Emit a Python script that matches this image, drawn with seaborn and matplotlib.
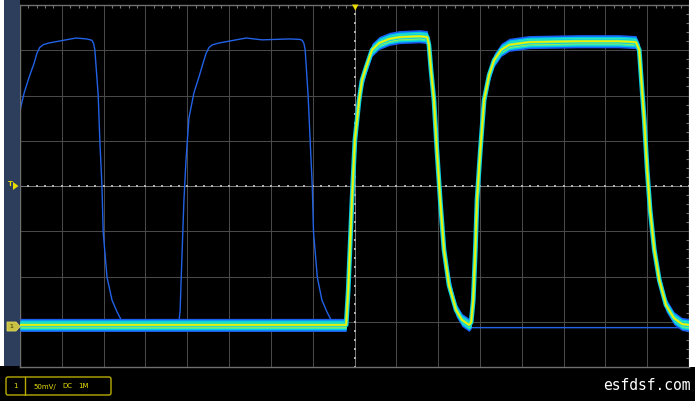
import numpy as np
import matplotlib
matplotlib.use("Agg")
import matplotlib.pyplot as plt
from matplotlib.patches import Rectangle, FancyBboxPatch, Polygon
from matplotlib.ticker import MultipleLocator
import seaborn as sns
import pandas as pd

# trace de référence (bleu, acquisition unique) -- divisions
ref_t = [-8.07, -8.02, -7.98, -7.90, -7.78, -7.66, -7.60, -7.53, -7.45, -7.31, -6.90, -6.66, -6.40, -6.28,
         -6.24, -6.21, -6.13, -6.09, -6.04, -6.01, -5.92, -5.80, -5.68, -5.58, -5.53,
         -4.20, -4.17, -4.13, -4.08, -4.03, -3.96, -3.84, -3.72, -3.62, -3.55, -3.48, -3.40,
         -3.24, -2.83, -2.59, -2.21, -1.56, -1.31, -1.25,
         -1.21, -1.18, -1.11, -1.06, -1.01, -0.98, -0.89, -0.78, -0.66, -0.56, -0.51, -0.20,
         -0.15, -0.06, 0.11, 0.42, 1.07, 1.74, 1.83, 1.97, 2.14, 2.43, 2.74, 8.00]
ref_v = [0.57, 1.50, 1.75, 2.06, 2.41, 2.72, 2.92, 3.06, 3.12, 3.16, 3.23, 3.27, 3.25, 3.22,
         3.15, 3.01, 2.01, 0.99, 0.00, -1.02, -2.01, -2.52, -2.78, -2.96, -3.03,
         -3.03, -2.74, -1.64, -0.33, 0.57, 1.50, 2.06, 2.41, 2.72, 2.93, 3.06, 3.12,
         3.16, 3.23, 3.27, 3.23, 3.25, 3.24, 3.22,
         3.15, 3.01, 2.01, 0.99, 0.00, -1.02, -2.01, -2.52, -2.78, -2.96, -3.03, -3.03,
         -2.30, -0.31, 1.90, 3.01, 3.29, 3.29, 2.56, 0.80, -1.41, -2.74, -3.13, -3.13]

# voie 1 (persistance jaune) -- divisions
ch1_t = [-8.00, -0.20, -0.15, -0.11, -0.06, 0.01, 0.11, 0.18, 0.28, 0.42, 0.59, 0.83, 1.07,
         1.55, 1.74, 1.78, 1.83, 1.90, 1.97, 2.05, 2.14, 2.26, 2.43, 2.57, 2.74,
         2.79, 2.84, 2.89, 2.93, 3.01, 3.10, 3.22, 3.34, 3.51, 3.70, 4.17, 5.37, 6.32,
         6.73, 6.81, 6.86, 6.93, 7.00, 7.07, 7.17, 7.29, 7.45, 7.64, 7.83, 8.00]
ch1_v = [-3.07, -3.07, -2.30, -1.41, -0.31, 1.02, 1.90, 2.34, 2.63, 3.01, 3.16, 3.25, 3.29,
         3.31, 3.29, 3.12, 2.56, 1.90, 0.80, -0.31, -1.41, -2.19, -2.74, -2.96, -3.07,
         -3.01, -2.52, -1.41, -0.31, 0.80, 1.90, 2.45, 2.78, 3.01, 3.12, 3.18, 3.20, 3.20,
         3.18, 3.01, 2.34, 1.46, 0.35, -0.53, -1.41, -2.08, -2.63, -2.92, -3.05, -3.07]

ref = pd.DataFrame({"t": ref_t, "v": ref_v})
ch1 = pd.DataFrame({"t": ch1_t, "v": ch1_v})

sns.set_theme(style="dark", rc={"axes.facecolor": "black", "figure.facecolor": "black"})

W, H = 695, 401
fig = plt.figure(figsize=(W / 100, H / 100), dpi=100)
ax = fig.add_axes([20 / W, 34 / H, 669 / W, 362 / H])
ax.set_facecolor("black")
ax.set_xlim(-8, 8)
ax.set_ylim(-4, 4)

# grille
ax.set_xticks(range(-8, 9))
ax.set_yticks(range(-4, 5))
ax.xaxis.set_minor_locator(MultipleLocator(0.2))
ax.yaxis.set_minor_locator(MultipleLocator(0.2))
ax.grid(True, which="major", color="#4c4c4c", lw=0.7)
ax.tick_params(which="both", direction="in", top=True, right=True, color="#777777",
               labelbottom=False, labelleft=False)
ax.tick_params(which="major", length=0)
ax.tick_params(which="minor", length=2.5, width=0.8)
for s in ax.spines.values():
    s.set_color("#707070")
    s.set_linewidth(1)

# axes centraux avec graduations
ax.axhline(0, color="#7a7a7a", lw=0.7, zorder=1)
ax.axvline(0, color="#7a7a7a", lw=0.7, zorder=1)
minor = np.arange(-8, 8.01, 0.2)
ax.plot(minor, np.zeros_like(minor), ls="none", marker="s", ms=1.6, mew=0, color="#b0b0b0", zorder=1)
minor_y = np.arange(-4, 4.01, 0.2)
ax.plot(np.zeros_like(minor_y), minor_y, ls="none", marker="s", ms=1.6, mew=0, color="#b0b0b0", zorder=1)

# trace bleue
sns.lineplot(data=ref, x="t", y="v", sort=False, estimator=None, color="#2262e6", lw=1.0, ax=ax, zorder=2)

# persistance voie 1
t = ch1["t"].to_numpy()
v = ch1["v"].to_numpy()
for half, col in [(0.145, "#1c5cf0"), (0.11, "#00c8f0"), (0.08, "#40f0a0"), (0.05, "#f2f000")]:
    ax.fill_between(t, v - half, v + half, color=col, lw=0, zorder=3)
sns.lineplot(data=ch1, x="t", y="v", sort=False, estimator=None, color="#00c8f0", lw=3.4, ax=ax, zorder=3)
sns.lineplot(data=ch1, x="t", y="v", sort=False, estimator=None, color="#60f080", lw=2.2, ax=ax, zorder=3)
sns.lineplot(data=ch1, x="t", y="v", sort=False, estimator=None, color="#f2f000", lw=1.2, ax=ax, zorder=3)
ax.set_xlabel("")
ax.set_ylabel("")

# habillage de l'écran (pixels)
ov = fig.add_axes([0, 0, 1, 1], zorder=10)
ov.set_xlim(0, W)
ov.set_ylim(H, 0)
ov.axis("off")
ov.patch.set_alpha(0)
ov.add_patch(Rectangle((0, 0), 4, 366, color="white", lw=0))
ov.add_patch(Rectangle((4, 0), 16, 366, color="#2c3e5c", lw=0))
ov.add_patch(Rectangle((689, 0), 6, 367, color="white", lw=0))

yel = "#e8dc00"
ov.add_patch(Polygon([(352, 4.5), (358.5, 4.5), (355.3, 10.5)], color=yel, lw=0))
ov.text(10.5, 183.5, "T", color=yel, fontsize=5, fontweight="bold", ha="center", va="center")
ov.add_patch(Polygon([(13, 182), (13, 190), (18.5, 186)], color=yel, lw=0))
ov.add_patch(Polygon([(7, 322), (16, 322), (20, 326.5), (16, 331), (7, 331)],
                     facecolor="#c8c040", edgecolor="#e0d860", lw=0.6))
ov.text(11.5, 326.8, "1", color="#303000", fontsize=4.5, ha="center", va="center")

ov.add_patch(FancyBboxPatch((6, 377), 105, 18, boxstyle="round,pad=0,rounding_size=2",
                            facecolor="black", edgecolor="#b8ac00", lw=1))
ov.plot([25, 25], [377, 395], color="#b8ac00", lw=1)
ov.text(15.5, 386.5, "1", color=yel, fontsize=5, ha="center", va="center")
ov.text(33, 386.5, "50mV/", color=yel, fontsize=5, ha="left", va="center")
ov.text(62, 386.5, "DC", color=yel, fontsize=5, ha="left", va="center")
ov.text(78, 386.5, "1M", color=yel, fontsize=5, ha="left", va="center")

ov.text(603, 385, "esfdsf.com", color="white", fontsize=10.5, family="DejaVu Sans Mono",
        ha="left", va="center")

fig.savefig("out.png", dpi=100, facecolor="black")
